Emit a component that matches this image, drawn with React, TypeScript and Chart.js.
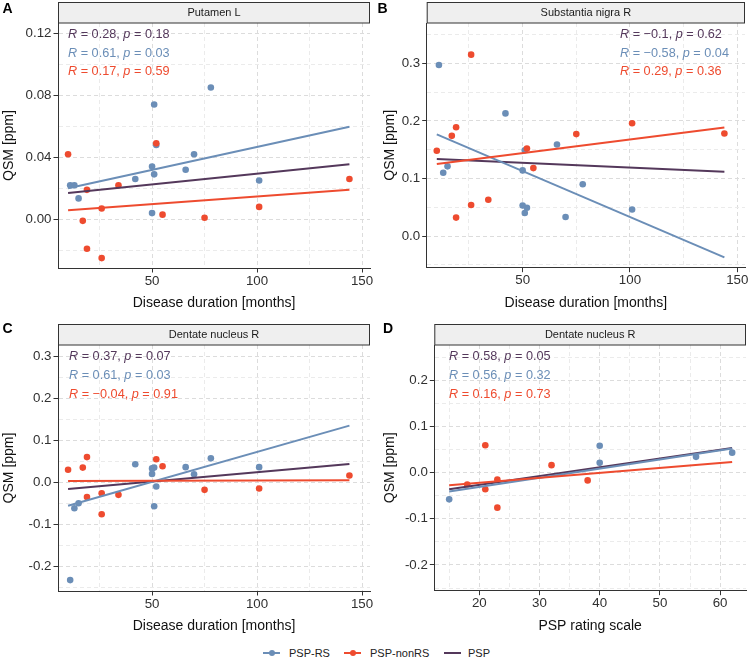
import React, { useEffect, useRef } from 'react';
import { Chart, registerables } from 'chart.js';

Chart.register(...registerables);

const BLUE = '#6B8EB7';
const RED = '#EE4B2F';
const PURPLE = '#54385B';
const FONT = "'Liberation Sans', Arial, Helvetica, sans-serif";

// ---------- Panel A: Putamen L ----------
const aRsX = [78, 51, 70, 50, 51, 66, 42, 11, 13, 15, 101, 50, 52];
const aRsY = [0.085, 0.074, 0.042, 0.034, 0.029, 0.032, 0.026, 0.022, 0.022, 0.0135, 0.025, 0.004, 0.048];
const aNonX = [10, 52, 19, 34, 26, 17, 19, 26, 55, 75, 101, 144];
const aNonY = [0.042, 0.049, 0.019, 0.022, 0.007, -0.001, -0.019, -0.025, 0.003, 0.001, 0.008, 0.026];
const aFitX = [10, 144];
const aFitPSP = [0.017, 0.0355];
const aFitRS = [0.020, 0.0597];
const aFitNon = [0.0058, 0.0191];
const aR = ['0.28', '0.61', '0.17'];
const aP = ['0.18', '0.03', '0.59'];
const aXTicks = [25, 50, 75, 100, 125, 150];
const aXLabels = ['', '50', '', '100', '', '150'];
const aYTicks = [-0.02, 0, 0.02, 0.04, 0.06, 0.08, 0.1, 0.12];
const aYLabels = ['', '0.00', '', '0.04', '', '0.08', '', '0.12'];

// ---------- Panel B: Substantia nigra R ----------
const bRsX = [11, 42, 66, 51, 13, 15, 50, 50, 52, 51, 70, 78, 101];
const bRsY = [0.297, 0.213, 0.159, 0.149, 0.11, 0.121, 0.114, 0.053, 0.049, 0.04, 0.033, 0.09, 0.046];
const bNonX = [10, 17, 19, 26, 52, 75, 101, 144, 55, 19, 26, 34];
const bNonY = [0.148, 0.174, 0.189, 0.315, 0.152, 0.177, 0.196, 0.178, 0.118, 0.032, 0.054, 0.063];
const bFitX = [10, 144];
const bFitPSP = [0.1337, 0.1117];
const bFitRS = [0.1766, -0.037];
const bFitNon = [0.125, 0.1887];
const bR = ['\u22120.1', '\u22120.58', '0.29'];
const bP = ['0.62', '0.04', '0.36'];
const bXTicks = [25, 50, 75, 100, 125, 150];
const bXLabels = ['', '50', '', '100', '', '150'];
const bYTicks = [-0.05, 0, 0.05, 0.1, 0.15, 0.2, 0.25, 0.3, 0.35];
const bYLabels = ['', '0.0', '', '0.1', '', '0.2', '', '0.3', ''];

// ---------- Panel C: Dentate nucleus R (duration) ----------
const cRsX = [42, 50, 51, 50, 66, 78, 101, 70, 52, 51, 13, 15, 11];
const cRsY = [0.043, 0.033, 0.035, 0.02, 0.036, 0.057, 0.036, 0.019, -0.01, -0.057, -0.062, -0.05, -0.233];
const cNonX = [10, 17, 19, 52, 55, 144, 19, 26, 34, 26, 75, 101];
const cNonY = [0.03, 0.035, 0.06, 0.055, 0.038, 0.016, -0.035, -0.026, -0.03, -0.076, -0.018, -0.015];
const cFitX = [10, 144];
const cFitPSP = [-0.016, 0.0436];
const cFitRS = [-0.056, 0.135];
const cFitNon = [0.003, 0.005];
const cR = ['0.37', '0.61', '\u22120.04'];
const cP = ['0.07', '0.03', '0.91'];
const cXTicks = [25, 50, 75, 100, 125, 150];
const cXLabels = ['', '50', '', '100', '', '150'];
const cYTicks = [-0.25, -0.2, -0.15, -0.1, -0.05, 0, 0.05, 0.1, 0.15, 0.2, 0.25, 0.3];
const cYLabels = ['', '-0.2', '', '-0.1', '', '0.0', '', '0.1', '', '0.2', '', '0.3'];

// ---------- Panel D: Dentate nucleus R (PSP rating scale) ----------
const dRsX = [40, 40, 56, 62, 15];
const dRsY = [0.058, 0.021, 0.034, 0.043, -0.058];
const dNonX = [21, 32, 18, 21, 23, 23, 38];
const dNonY = [0.059, 0.016, -0.026, -0.036, -0.015, -0.076, -0.017];
const dFitX = [15, 62];
const dFitPSP = [-0.036, 0.053];
const dFitRS = [-0.041, 0.052];
const dFitNon = [-0.0274, 0.0229];
const dR = ['0.58', '0.56', '0.16'];
const dP = ['0.05', '0.32', '0.73'];
const dXTicks = [15, 20, 25, 30, 35, 40, 45, 50, 55, 60];
const dXLabels = ['', '20', '', '30', '', '40', '', '50', '', '60'];
const dYTicks = [-0.25, -0.2, -0.15, -0.1, -0.05, 0, 0.05, 0.1, 0.15, 0.2, 0.25];
const dYLabels = ['', '-0.2', '', '-0.1', '', '0.0', '', '0.1', '', '0.2', ''];

type Panel = {
  letter: string; letterX: number; title: string; xLabel: string;
  left: number; top: number; width: number; height: number;
  area: { left: number; right: number; top: number; bottom: number };
  xMin: number; xMax: number; yMin: number; yMax: number;
  xTicks: number[]; xLabels: string[]; yTicks: number[]; yLabels: string[];
  rsX: number[]; rsY: number[]; nonX: number[]; nonY: number[];
  fitX: number[]; fitPSP: number[]; fitRS: number[]; fitNon: number[];
  r: string[]; p: string[]; annX: number; annY: number[];
  yTitlePad: number; xTitlePad: number;
};

const panels: Panel[] = [
  {
    letter: 'A', letterX: 2.5, title: 'Putamen L', xLabel: 'Disease duration [months]',
    left: 0, top: 0, width: 375, height: 320,
    area: { left: 58, right: 370, top: 23, bottom: 268 },
    xMin: 5.2, xMax: 153.8, yMin: -0.0314, yMax: 0.1266,
    xTicks: aXTicks, xLabels: aXLabels, yTicks: aYTicks, yLabels: aYLabels,
    rsX: aRsX, rsY: aRsY, nonX: aNonX, nonY: aNonY,
    fitX: aFitX, fitPSP: aFitPSP, fitRS: aFitRS, fitNon: aFitNon,
    r: aR, p: aP, annX: 68, annY: [38.2, 56.7, 75], yTitlePad: 0.5, xTitlePad: 8.9,
  },
  {
    letter: 'B', letterX: 2.5, title: 'Substantia nigra R', xLabel: 'Disease duration [months]',
    left: 375, top: 0, width: 375, height: 320,
    area: { left: 51.7, right: 370, top: 23, bottom: 267.7 },
    xMin: 5.3, xMax: 153.6, yMin: -0.055, yMax: 0.37,
    xTicks: bXTicks, xLabels: bXLabels, yTicks: bYTicks, yLabels: bYLabels,
    rsX: bRsX, rsY: bRsY, nonX: bNonX, nonY: bNonY,
    fitX: bFitX, fitPSP: bFitPSP, fitRS: bFitRS, fitNon: bFitNon,
    r: bR, p: bP, annX: 245, annY: [38.2, 56.7, 75], yTitlePad: 6.4, xTitlePad: 8.9,
  },
  {
    letter: 'C', letterX: 2.5, title: 'Dentate nucleus R', xLabel: 'Disease duration [months]',
    left: 0, top: 320, width: 375, height: 320,
    area: { left: 58, right: 370, top: 25, bottom: 271 },
    xMin: 5.2, xMax: 153.8, yMin: -0.259, yMax: 0.327,
    xTicks: cXTicks, xLabels: cXLabels, yTicks: cYTicks, yLabels: cYLabels,
    rsX: cRsX, rsY: cRsY, nonX: cNonX, nonY: cNonY,
    fitX: cFitX, fitPSP: cFitPSP, fitRS: cFitRS, fitNon: cFitNon,
    r: cR, p: cP, annX: 69, annY: [39.8, 58.8, 77.8], yTitlePad: 0.5, xTitlePad: 5.9,
  },
  {
    letter: 'D', letterX: 8, title: 'Dentate nucleus R', xLabel: 'PSP rating scale',
    left: 375, top: 320, width: 375, height: 320,
    area: { left: 59.3, right: 371, top: 25, bottom: 270.7 },
    xMin: 12.53, xMax: 64.3, yMin: -0.2557, yMax: 0.276,
    xTicks: dXTicks, xLabels: dXLabels, yTicks: dYTicks, yLabels: dYLabels,
    rsX: dRsX, rsY: dRsY, nonX: dNonX, nonY: dNonY,
    fitX: dFitX, fitPSP: dFitPSP, fitRS: dFitRS, fitNon: dFitNon,
    r: dR, p: dP, annX: 74, annY: [40.3, 59.2, 77.8], yTitlePad: 6.4, xTitlePad: 5.9,
  },
];

const MAJOR_GRID = '#DCDCDC';
const MINOR_GRID = '#EBEBEB';
const AXIS_COL = '#333333';

function pts(xs: number[], ys: number[]) {
  return xs.map((x, i) => ({ x, y: ys[i] }));
}

function PanelChart({ p }: { p: Panel }) {
  const ref = useRef<HTMLCanvasElement>(null);
  useEffect(() => {
    const canvas = ref.current;
    if (!canvas) return;
    const deco = {
      id: 'deco',
      afterDraw(chart: any) {
        const { ctx, chartArea: a } = chart;
        ctx.save();
        // strip
        const sh = 21;
        ctx.fillStyle = '#EFEFEF';
        ctx.fillRect(a.left, a.top - sh, a.right - a.left, sh);
        ctx.strokeStyle = '#333333';
        ctx.lineWidth = 1;
        ctx.strokeRect(a.left + 0.5, a.top - sh + 0.5, a.right - a.left - 1, sh - 0.5);
        ctx.fillStyle = '#1A1A1A';
        ctx.font = `11px ${FONT}`;
        ctx.textAlign = 'center';
        ctx.textBaseline = 'middle';
        ctx.fillText(p.title, (a.left + a.right) / 2, a.top - sh / 2);
        // panel letter
        ctx.font = `bold 14px ${FONT}`;
        ctx.textAlign = 'left';
        ctx.textBaseline = 'alphabetic';
        ctx.fillStyle = '#000000';
        ctx.fillText(p.letter, p.letterX, 13);
        // annotations
        const colors = [PURPLE, BLUE, RED];
        const fs = 12.7;
        for (let i = 0; i < 3; i++) {
          let x = p.annX;
          const y = p.annY[i];
          ctx.fillStyle = colors[i];
          const parts: [string, boolean][] = [
            ['R', true], [` = ${p.r[i]}, `, false], ['p', true], [` = ${p.p[i]}`, false],
          ];
          for (const [t, it] of parts) {
            ctx.font = `${it ? 'italic ' : ''}${fs}px ${FONT}`;
            ctx.fillText(t, x, y);
            x += ctx.measureText(t).width;
          }
        }
        ctx.restore();
      },
    };
    const tickFont = { family: FONT, size: 13.3 };
    const titleFont = { family: FONT, size: 14 };
    const chart = new Chart(canvas, {
      type: 'scatter',
      data: {
        datasets: [
          { label: 'PSP-nonRS fit', data: pts(p.fitX, p.fitNon), showLine: true, borderColor: RED, backgroundColor: RED, borderWidth: 2, pointRadius: 0, order: 0 },
          { label: 'PSP-RS fit', data: pts(p.fitX, p.fitRS), showLine: true, borderColor: BLUE, backgroundColor: BLUE, borderWidth: 2, pointRadius: 0, order: 1 },
          { label: 'PSP fit', data: pts(p.fitX, p.fitPSP), showLine: true, borderColor: PURPLE, backgroundColor: PURPLE, borderWidth: 2, pointRadius: 0, order: 2 },
          { label: 'PSP-nonRS', data: pts(p.nonX, p.nonY), backgroundColor: RED, borderWidth: 0, pointRadius: 3.3, order: 3 },
          { label: 'PSP-RS', data: pts(p.rsX, p.rsY), backgroundColor: BLUE, borderWidth: 0, pointRadius: 3.3, order: 4 },
        ] as any,
      },
      options: {
        responsive: false,
        animation: false,
        events: [],
        layout: { padding: { left: 0, top: p.area.top, right: p.width - p.area.right, bottom: 0 } },
        plugins: { legend: { display: false }, tooltip: { enabled: false } },
        scales: {
          x: {
            type: 'linear', position: 'bottom', min: p.xMin, max: p.xMax, bounds: 'data',
            afterBuildTicks: (s: any) => { s.ticks = p.xTicks.map((v) => ({ value: v })); },
            afterFit: (s: any) => { s.height = p.height - p.area.bottom; },
            ticks: { autoSkip: false, maxRotation: 0, padding: 0.5, color: '#303030', font: tickFont, callback: (_v: any, i: number) => p.xLabels[i] },
            grid: {
              color: (c: any) => (p.xLabels[c.index] ? MAJOR_GRID : MINOR_GRID),
              lineWidth: 1, tickLength: 4.5, tickWidth: 1,
              tickColor: (c: any) => (p.xLabels[c.index] ? AXIS_COL : 'rgba(0,0,0,0)'),
            },
            border: { display: true, color: AXIS_COL, width: 1, dash: [4, 3] },
            title: { display: true, text: p.xLabel, color: '#111111', font: titleFont, padding: { top: 0, bottom: p.xTitlePad } },
          },
          y: {
            type: 'linear', position: 'left', min: p.yMin, max: p.yMax, bounds: 'data',
            afterBuildTicks: (s: any) => { s.ticks = p.yTicks.map((v) => ({ value: v })); },
            afterFit: (s: any) => { s.width = p.area.left; },
            ticks: { autoSkip: false, padding: 2, color: '#303030', font: tickFont, callback: (_v: any, i: number) => p.yLabels[i] },
            grid: {
              color: (c: any) => (p.yLabels[c.index] ? MAJOR_GRID : MINOR_GRID),
              lineWidth: 1, tickLength: 4.5, tickWidth: 1,
              tickColor: (c: any) => (p.yLabels[c.index] ? AXIS_COL : 'rgba(0,0,0,0)'),
            },
            border: { display: true, color: AXIS_COL, width: 1, dash: [4, 3] },
            title: { display: true, text: 'QSM [ppm]', color: '#111111', font: titleFont, padding: { top: p.yTitlePad, bottom: 0 } },
          },
        },
      } as any,
      plugins: [deco],
    });
    return () => chart.destroy();
  }, [p]);
  return (
    <canvas
      ref={ref}
      width={p.width}
      height={p.height}
      style={{ position: 'absolute', left: p.left, top: p.top, width: p.width, height: p.height }}
    />
  );
}

const legendItems = [
  { label: 'PSP-RS', color: BLUE, dot: true, lineX: 263, textX: 289 },
  { label: 'PSP-nonRS', color: RED, dot: true, lineX: 344, textX: 370 },
  { label: 'PSP', color: PURPLE, dot: false, lineX: 444, textX: 468 },
];

export default function App() {
  const ly = 652.7;
  return (
    <div style={{ position: 'absolute', left: 0, top: 0, width: 750, height: 665, background: '#FFFFFF', overflow: 'hidden' }}>
      {panels.map((p) => (
        <PanelChart key={p.letter} p={p} />
      ))}
      {legendItems.map((it) => (
        <React.Fragment key={it.label}>
          <div style={{ position: 'absolute', left: it.lineX, top: ly - 1, width: 17, height: 2, background: it.color }} />
          {it.dot && (
            <div style={{ position: 'absolute', left: it.lineX + 5.5, top: ly - 3, width: 6, height: 6, borderRadius: '50%', background: it.color }} />
          )}
          <div style={{ position: 'absolute', left: it.textX, top: ly - 8, height: 16, lineHeight: '16px', fontSize: 11, fontFamily: FONT, color: '#222222', whiteSpace: 'nowrap' }}>
            {it.label}
          </div>
        </React.Fragment>
      ))}
    </div>
  );
}
